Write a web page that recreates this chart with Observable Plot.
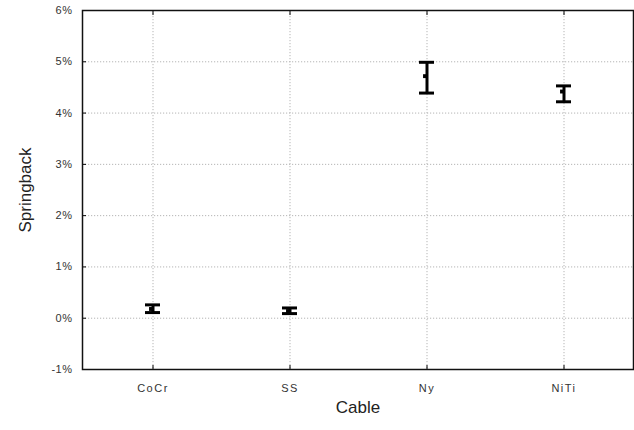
<!DOCTYPE html>
<html><head><meta charset="utf-8">
<script src="https://cdn.jsdelivr.net/npm/d3@7"></script>
<script src="https://cdn.jsdelivr.net/npm/@observablehq/plot@0.6"></script>
<style>
body{margin:0;background:#fff}
svg{font-family:"Liberation Sans",Arial,sans-serif}
</style>
</head><body><div id="chart"></div>
<script>
const cables = ["CoCr", "SS", "Ny", "NiTi"];
const means = [0.18, 0.14, 4.72, 4.42];
const lows  = [0.11, 0.09, 4.39, 4.22];
const highs = [0.26, 0.20, 4.99, 4.53];
const yTicks = [-1, 0, 1, 2, 3, 4, 5, 6];
const gridTicks = [0, 1, 2, 3, 4, 5];
const xTitle = "Cable";
const yTitle = "Springback";

const data = cables.map((c, i) => ({cable: c, mean: means[i], low: lows[i], high: highs[i]}));

const plot = Plot.plot({
  width: 634, height: 430,
  marginLeft: 82, marginRight: 1, marginTop: 10, marginBottom: 61,
  style: {fontFamily: "'Liberation Sans', Arial, sans-serif", background: "#fff"},
  x: {type: "band", domain: cables, padding: 0, label: null},
  y: {domain: [-1, 6], label: null},
  marks: [
    Plot.gridX(cables, {stroke: "#b5b5b5", strokeOpacity: 1, strokeDasharray: "1.2,1.8"}),
    Plot.gridY(gridTicks, {stroke: "#b5b5b5", strokeOpacity: 1, strokeDasharray: "1.2,1.8"}),
    Plot.axisY(yTicks, {tickSize: -4, tickPadding: 14, tickFormat: d => d + "%", fontSize: 11, fill: "#333", label: null}),
    Plot.axisX(cables, {tickSize: -4, tickPadding: 19, fontSize: 11, fill: "#333", label: null}),
    Plot.axisX(cables, {anchor: "top", tickSize: -4, tickFormat: null, label: null}),
    Plot.frame({stroke: "#111", strokeWidth: 1.5}),
    Plot.ruleX(data, {x: "cable", y1: "low", y2: "high", strokeWidth: 3, stroke: "#000"}),
    Plot.tickY(data, {x: "cable", y: "low", insetLeft: 61, insetRight: 61, strokeWidth: 3, stroke: "#000"}),
    Plot.tickY(data, {x: "cable", y: "high", insetLeft: 61, insetRight: 61, strokeWidth: 3, stroke: "#000"}),
    Plot.dot(data, {x: "cable", y: "mean", symbol: "square", r: 2.2, fill: "#000", stroke: null, dx: -2}),
    Plot.text([yTitle], {text: d => d, frameAnchor: "left", textAnchor: "middle", lineAnchor: "middle", dx: -57, rotate: -90, fontSize: 17, fill: "#222"}),
    Plot.text([xTitle], {text: d => d, frameAnchor: "bottom", textAnchor: "middle", lineAnchor: "middle", dy: 38, fontSize: 17, fill: "#222"})
  ]
});
d3.select(plot).selectAll('g[aria-label="x-axis tick label"] text').attr("letter-spacing", "1.5px");
d3.select(plot).selectAll('g[aria-label="y-axis tick label"] text').attr("letter-spacing", "0.5px");
document.getElementById("chart").appendChild(plot);
</script>
</body></html>
